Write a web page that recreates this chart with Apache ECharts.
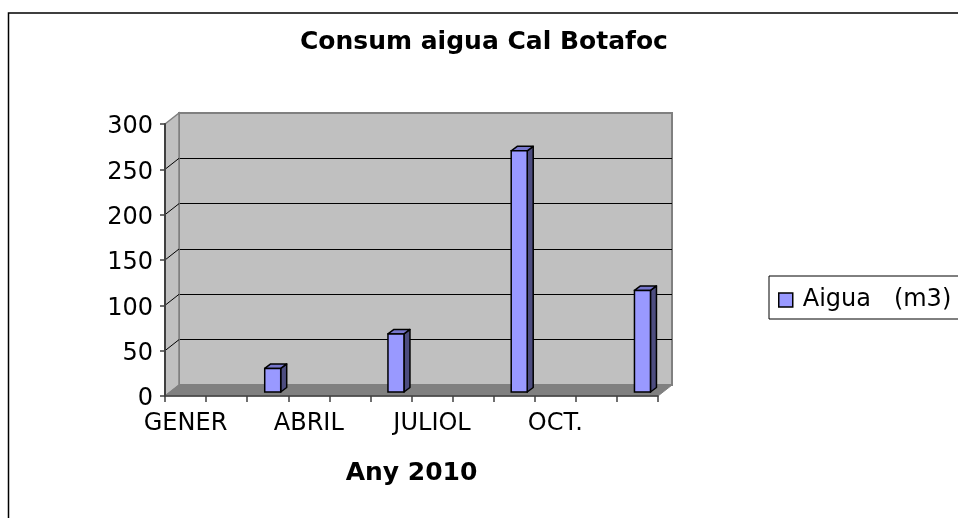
<!DOCTYPE html>
<html>
<head>
<meta charset="utf-8">
<script src="https://cdn.jsdelivr.net/npm/echarts@6/dist/echarts.min.js"></script>
<style>
  html, body { margin: 0; padding: 0; background: #fff; }
  #chart { width: 958px; height: 518px; }
</style>
</head>
<body>
<div id="chart"></div>
<script>
// ---- data ----
const titleText = 'Consum aigua Cal Botafoc';
const xAxisName = 'Any 2010';
const seriesName = 'Aigua   (m3)';
const months = ['GENER', 'FEBRER', 'MARÇ', 'ABRIL', 'MAIG', 'JUNY', 'JULIOL', 'AGOST', 'SET.', 'OCT.', 'NOV.', 'DES.'];
const water = [null, null, 26, null, null, 64, null, null, 266, null, null, 112];
const yMin = 0, yMax = 300, yStep = 50;

// ---- layout / style ----
const FONT = 'DejaVu Sans, Verdana, sans-serif';
const G = { left: 165, top: 124, right: 300, bottom: 122 };
const DX = 14, DY = 11;            // 3D depth of walls
const BAR_W = 16, BAR_DX = 6, BAR_DY = 4.5, BAR_SHIFT_X = 5, BAR_SHIFT_Y = 4;

const yTicks = [];
for (let v = yMin; v <= yMax; v += yStep) yTicks.push(v);

const barData = [];
water.forEach((v, i) => { if (v !== null) barData.push([i, v]); });

const chart = echarts.init(document.getElementById('chart'), null, { renderer: 'canvas' });

function renderWalls(params, api) {
  const cs = params.coordSys;
  const x0 = cs.x, y0 = cs.y, w = cs.width, h = cs.height, yb = y0 + h;
  const children = [];
  children.push({
    type: 'polygon',
    shape: { points: [[x0, y0], [x0 + DX, y0 - DY], [x0 + DX, yb - DY], [x0, yb]] },
    style: { fill: '#c0c0c0', stroke: '#808080', lineWidth: 1.5 }
  });
  yTicks.forEach(v => {
    if (v === yMin || v === yMax) return;
    const p = api.coord([0, v]);
    children.push({
      type: 'line',
      shape: { x1: x0, y1: p[1], x2: x0 + DX, y2: p[1] - DY },
      style: { stroke: '#000', lineWidth: 1 }
    });
  });
  children.push({
    type: 'polygon',
    shape: { points: [[x0, yb], [x0 + DX, yb - DY], [x0 + w + DX, yb - DY], [x0 + w, yb]] },
    style: { fill: '#808080', stroke: '#808080', lineWidth: 1 }
  });
  return { type: 'group', children: children };
}

function renderBar(params, api) {
  const i = api.value(0), v = api.value(1);
  const top = api.coord([i, v]);
  const base = api.coord([i, 0]);
  const cx = top[0] + BAR_SHIFT_X;
  const x1 = cx - BAR_W / 2, x2 = cx + BAR_W / 2;
  const yt = top[1] - BAR_SHIFT_Y, yb = base[1] - BAR_SHIFT_Y;
  return {
    type: 'group',
    children: [
      { type: 'polygon',
        shape: { points: [[x2, yt], [x2 + BAR_DX, yt - BAR_DY], [x2 + BAR_DX, yb - BAR_DY], [x2, yb]] },
        style: { fill: '#4d4d80', stroke: '#000', lineWidth: 1.5, lineJoin: 'round' } },
      { type: 'polygon',
        shape: { points: [[x1, yt], [x1 + BAR_DX, yt - BAR_DY], [x2 + BAR_DX, yt - BAR_DY], [x2, yt]] },
        style: { fill: '#7777cc', stroke: '#000', lineWidth: 1.5, lineJoin: 'round' } },
      { type: 'rect',
        shape: { x: x1, y: yt, width: BAR_W, height: yb - yt },
        style: { fill: '#9999ff', stroke: '#000', lineWidth: 1.5 } }
    ]
  };
}

const option = {
  animation: false,
  backgroundColor: '#fff',
  title: {
    text: titleText,
    left: 300, top: 30, padding: 0,
    textStyle: { fontFamily: FONT, fontSize: 25, fontWeight: 'bold', color: '#000' }
  },
  graphic: [{
    type: 'rect', silent: true, z: -10,
    shape: { x: 8.5, y: 13, width: 960, height: 520 },
    style: { fill: 'none', stroke: '#000', lineWidth: 1.5 }
  }],
  legend: {
    data: [{ name: seriesName, icon: 'rect' }],
    left: 769, top: 276,
    orient: 'vertical',
    backgroundColor: '#fff',
    borderColor: '#000', borderWidth: 1,
    padding: [12, 20, 7, 9],
    itemWidth: 14, itemHeight: 14,
    itemStyle: { color: '#9999ff', borderColor: '#000', borderWidth: 1.5 },
    textStyle: { fontFamily: FONT, fontSize: 24, color: '#000', padding: [0, 0, 0, 5] },
    selectedMode: false
  },
  grid: [
    { left: G.left, top: G.top, right: G.right, bottom: G.bottom },
    { left: G.left + DX, top: G.top - DY, right: G.right - DX, bottom: G.bottom + DY,
      show: true, backgroundColor: '#c0c0c0', borderColor: '#808080', borderWidth: 2 }
  ],
  xAxis: [
    { type: 'category', gridIndex: 0, data: months, boundaryGap: true, z: 5,
      axisLine: { show: true, lineStyle: { color: '#404040', width: 1.5 } },
      axisTick: { show: true, interval: 0, length: 6, lineStyle: { color: '#404040', width: 1.5 } },
      axisLabel: { interval: 2, margin: 16, fontFamily: FONT, fontSize: 24, color: '#000' },
      splitLine: { show: false },
      name: xAxisName, nameLocation: 'middle', nameGap: 65,
      nameTextStyle: { fontFamily: FONT, fontSize: 25, fontWeight: 'bold', color: '#000' } },
    { type: 'category', gridIndex: 1, data: months, boundaryGap: true, show: false }
  ],
  yAxis: [
    { type: 'value', gridIndex: 0, min: yMin, max: yMax, interval: yStep, z: 5,
      axisLine: { show: true, lineStyle: { color: '#404040', width: 2 } },
      axisTick: { show: true, length: 5, lineStyle: { color: '#404040', width: 1.5 } },
      axisLabel: { margin: 12, color: '#000', formatter: '{v|{value}}',
        rich: { v: { fontFamily: FONT, fontSize: 24, color: '#000', padding: [6, 0, 0, 0] } } },
      splitLine: { show: false } },
    { type: 'value', gridIndex: 1, min: yMin, max: yMax, interval: yStep,
      axisLine: { show: false }, axisTick: { show: false }, axisLabel: { show: false },
      splitLine: { show: true, showMinLine: false, showMaxLine: false, lineStyle: { color: '#000', width: 1.2 } } }
  ],
  series: [
    { type: 'custom', name: '__walls', xAxisIndex: 0, yAxisIndex: 0, z: 1,
      silent: true, renderItem: renderWalls, data: [[0, 0]] },
    { type: 'custom', name: seriesName, xAxisIndex: 0, yAxisIndex: 0, z: 3,
      itemStyle: { color: '#9999ff' },
      renderItem: renderBar, data: barData, encode: { x: 0, y: 1 } }
  ]
};
chart.setOption(option);
</script>
</body>
</html>
